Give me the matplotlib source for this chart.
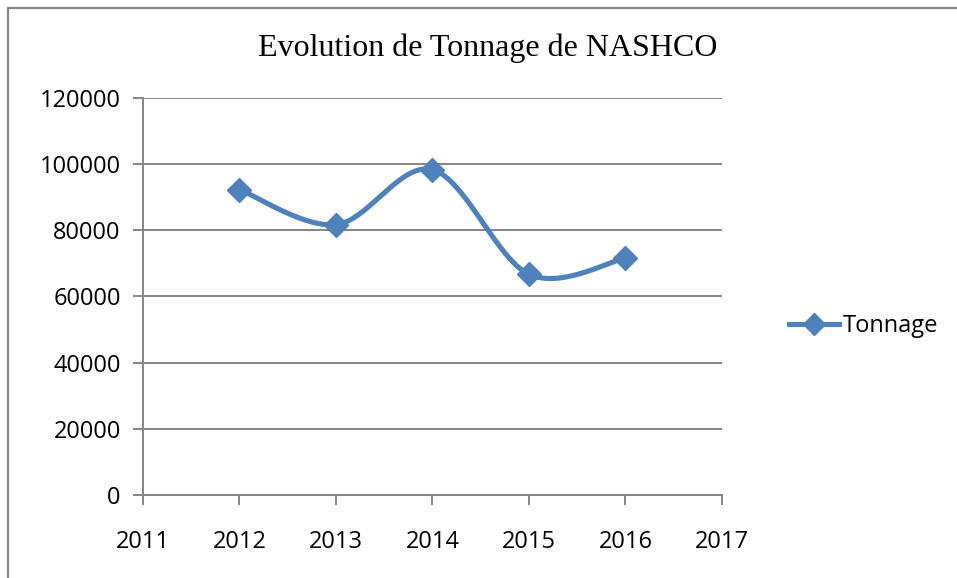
import numpy as np
import matplotlib
matplotlib.use("Agg")
import matplotlib.pyplot as plt
from matplotlib.patches import Rectangle

years = [2012, 2013, 2014, 2015, 2016]
tonnage = [92300, 81700, 98300, 66700, 71600]
series_name = "Tonnage"
title = "Evolution de Tonnage de NASHCO"


def smooth(xs, ys, n=40):
    # Excel-style smoothed line: cubic bezier, catmull-rom control points
    p = np.column_stack([xs, ys]).astype(float)
    pts = np.vstack([p[0], p, p[-1]])
    out = []
    for i in range(1, len(pts) - 2):
        p0, p1, p2, p3 = pts[i - 1], pts[i], pts[i + 1], pts[i + 2]
        c1 = p1 + (p2 - p0) / 6
        c2 = p2 - (p3 - p1) / 6
        t = np.linspace(0, 1, n)[:, None]
        seg = ((1 - t) ** 3) * p1 + 3 * ((1 - t) ** 2) * t * c1 + 3 * (1 - t) * t ** 2 * c2 + t ** 3 * p2
        out.append(seg)
    s = np.vstack(out)
    return s[:, 0], s[:, 1]


blue = "#4F81BD"
grey = "#868686"

fig = plt.figure(figsize=(9.57, 5.78), dpi=100)
ax = fig.add_axes([0.1494, 0.1436, 0.605, 0.687])

sx, sy = smooth(years, tonnage)
ax.plot(sx, sy, color=blue, lw=3.7, solid_capstyle="round", zorder=3)
ax.plot(years, tonnage, ls="none", marker="D", ms=12, color=blue, zorder=4)
ax.plot([], [], color=blue, lw=3.7, marker="D", ms=11, label=series_name)

ax.set_xlim(2011, 2017)
ax.set_ylim(0, 120000)
ax.set_xticks(range(2011, 2018))
ax.set_yticks(range(0, 120001, 20000))
ax.yaxis.grid(True, color=grey, lw=1.4)
ax.set_axisbelow(True)
for side in ["top", "right"]:
    ax.spines[side].set_visible(False)
for side in ["left", "bottom"]:
    ax.spines[side].set_color(grey)
    ax.spines[side].set_linewidth(1.4)
ax.tick_params(axis="both", colors=grey, length=7, width=1.4, direction="out")
ax.tick_params(axis="y", pad=9)
ax.tick_params(axis="x", pad=18)
for lab in ax.get_xticklabels() + ax.get_yticklabels():
    lab.set_fontfamily("Open Sans")
    lab.set_fontsize(17)
    lab.set_color("black")

fig.text(0.51, 0.917, title, ha="center", va="center",
         family="Liberation Serif", fontsize=23)

leg = fig.legend(loc="center left", bbox_to_anchor=(0.815, 0.436), frameon=False,
                 prop={"family": "Open Sans", "size": 17}, handlelength=2.1,
                 handletextpad=0.15, borderaxespad=0)

fig.patches.append(Rectangle((8 / 957, -0.1), 2, 1.1 - 8 / 578, transform=fig.transFigure,
                             fill=False, edgecolor=grey, lw=1.6, figure=fig))

fig.savefig("out.png", dpi=100)
